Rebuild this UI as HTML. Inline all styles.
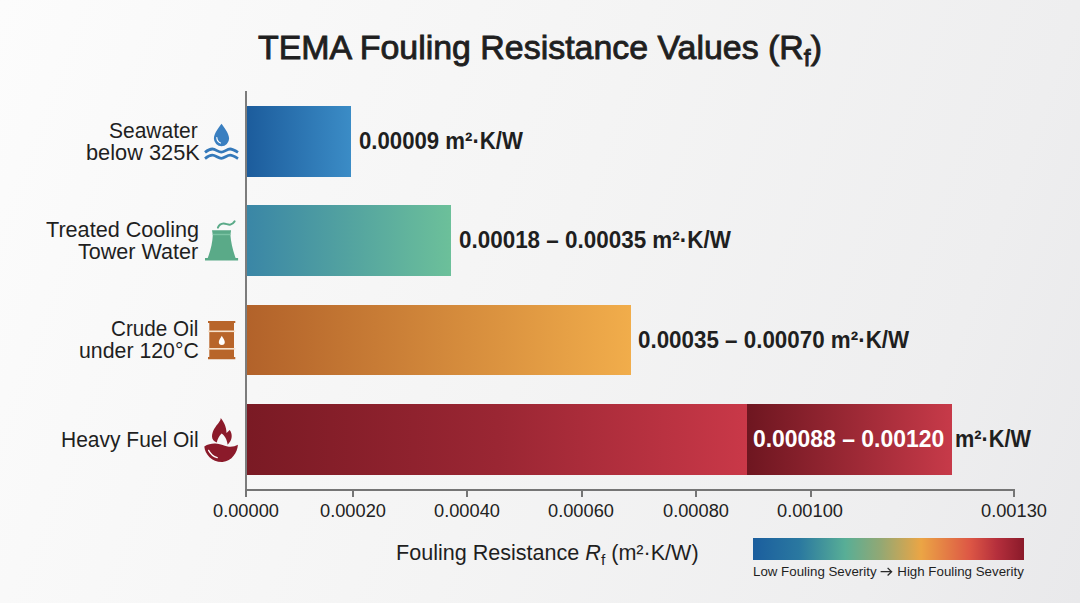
<!DOCTYPE html>
<html><head><meta charset="utf-8">
<style>
html,body{margin:0;padding:0;}
body{width:1080px;height:603px;position:relative;overflow:hidden;font-family:"Liberation Sans",sans-serif;color:#222;
background:linear-gradient(110deg,#fcfcfc 0%,#f9f9f9 17%,#f4f4f4 50%,#eeeeef 83%,#e9e9eb 100%);}
.t{position:absolute;white-space:nowrap;line-height:1;transform-origin:0 0;}
.bar{position:absolute;left:247px;}
.tick{position:absolute;top:490px;width:2px;height:7px;background:#757575;}
</style></head>
<body>
<div style="position:absolute;left:245px;top:91px;width:1.5px;height:406px;background:#7c7c7c;"></div>
<div style="position:absolute;left:245px;top:489px;width:770px;height:2px;background:#757575;"></div>
<div class="bar" style="top:106px;width:104px;height:71px;background:linear-gradient(90deg,#1c5c9c,#3b8cc6);"></div>
<div class="bar" style="top:205px;width:204px;height:71px;background:linear-gradient(90deg,#3a86a6,#6cc09a);"></div>
<div class="bar" style="top:305px;width:384px;height:70px;background:linear-gradient(90deg,#b2622a,#f1ad4b);"></div>
<div class="bar" style="top:404px;width:500px;height:71px;background:linear-gradient(90deg,#7a1a24 0%,#9a2633 50%,#c93848 100%);"></div>
<div class="bar" style="left:747px;top:404px;width:205px;height:71px;background:linear-gradient(90deg,#6e1620,#c73a49);"></div>
<div class='tick' style='left:245.0px'></div>
<div class='tick' style='left:352.0px'></div>
<div class='tick' style='left:466.4px'></div>
<div class='tick' style='left:580.6px'></div>
<div class='tick' style='left:695.1px'></div>
<div class='tick' style='left:809.8px'></div>
<div class='tick' style='left:1013.0px'></div>
<div class='t' style='left:258.3px;top:30px;transform:scaleX(0.9972);font-size:34px;font-weight:normal;-webkit-text-stroke:0.9px #222;color:#1f1f1f'>TEMA Fouling Resistance Values (R<sub style='font-size:0.72em;vertical-align:-0.3em;line-height:0'>f</sub>)</div>
<div class='t' style='left:108.55px;top:120px;transform:scaleX(0.9543);font-size:22px;color:#1f1f1f'>Seawater</div>
<div class='t' style='left:85.61px;top:142px;transform:scaleX(0.9903);font-size:22px;color:#1f1f1f'>below 325K</div>
<div class='t' style='left:46.1px;top:219px;transform:scaleX(0.9825);font-size:22px;color:#1f1f1f'>Treated Cooling</div>
<div class='t' style='left:77.9px;top:241px;transform:scaleX(0.9795);font-size:22px;color:#1f1f1f'>Tower Water</div>
<div class='t' style='left:110.96px;top:318px;transform:scaleX(0.9407);font-size:22px;color:#1f1f1f'>Crude Oil</div>
<div class='t' style='left:79.03px;top:340px;transform:scaleX(0.968);font-size:22px;color:#1f1f1f'>under 120°C</div>
<div class='t' style='left:61.39px;top:429px;transform:scaleX(0.9539);font-size:22px;color:#1f1f1f'>Heavy Fuel Oil</div>
<div class='t' style='left:359.06px;top:130px;transform:scaleX(0.9439);font-size:23.5px;font-weight:bold;color:#1f1f1f'>0.00009 m²·K/W</div>
<div class='t' style='left:458.85px;top:229px;transform:scaleX(0.9546);font-size:23.5px;font-weight:bold;color:#1f1f1f'>0.00018 – 0.00035 m²·K/W</div>
<div class='t' style='left:637.95px;top:329px;transform:scaleX(0.9521);font-size:23.5px;font-weight:bold;color:#1f1f1f'>0.00035 – 0.00070 m²·K/W</div>
<div class='t' style='left:753.42px;top:428px;transform:scaleX(0.9753);font-size:23.5px;font-weight:bold;color:#ffffff'>0.00088 – 0.00120</div>
<div class='t' style='left:955.35px;top:428px;transform:scaleX(0.9237);font-size:23.5px;font-weight:bold;color:#1f1f1f'>m²·K/W</div>
<div class='t' style='left:396.29px;top:543px;transform:scaleX(1.0027);font-size:21.5px;color:#1f1f1f'>Fouling Resistance <i>R</i><sub style='font-size:0.72em;vertical-align:-0.32em;line-height:0'>f</sub> (m²·K/W)</div>
<div class='t' style='left:752.63px;top:565px;transform:scaleX(0.9726);font-size:13.7px;color:#1f1f1f'>Low Fouling Severity <span style='color:transparent'>→</span> High Fouling Severity</div>
<div class='t' style='left:212.66px;top:503px;transform:scaleX(1.0419);font-size:17.5px;color:#222'>0.00000</div>
<div class='t' style='left:319.66px;top:503px;transform:scaleX(1.0419);font-size:17.5px;color:#222'>0.00020</div>
<div class='t' style='left:434.06px;top:503px;transform:scaleX(1.0419);font-size:17.5px;color:#222'>0.00040</div>
<div class='t' style='left:548.26px;top:503px;transform:scaleX(1.0419);font-size:17.5px;color:#222'>0.00060</div>
<div class='t' style='left:662.76px;top:503px;transform:scaleX(1.0419);font-size:17.5px;color:#222'>0.00080</div>
<div class='t' style='left:777.46px;top:503px;transform:scaleX(1.0419);font-size:17.5px;color:#222'>0.00100</div>
<div class='t' style='left:980.66px;top:503px;transform:scaleX(1.0419);font-size:17.5px;color:#222'>0.00130</div>
<div style="position:absolute;left:753px;top:538px;width:271px;height:22px;background:linear-gradient(90deg,#1b5e9e 0%,#2a78a0 17%,#58ae96 34%,#92a874 47%,#eba545 62%,#dd5745 80%,#b52f3c 90%,#8a1a2a 100%);"></div>
<svg style="position:absolute;left:0;top:0" width="1080" height="603" viewBox="0 0 1080 603">
<!-- water -->
<g fill="#3a7fc0">
<path d="M221.5,123.7 C220,126 213.9,133 213.9,138.6 A7.6,7.6 0 0 0 229.1,138.6 C229.1,133 223,126 221.5,123.7 Z"/>
</g>
<path d="M216.8,137.5 Q217,141.5 220.5,143" fill="none" stroke="#fff" stroke-width="1.2" stroke-linecap="round"/>
<g fill="none" stroke="#3479ba" stroke-width="2.8" stroke-linecap="butt">
<path d="M205,152.4 C208,150 210,149 212.4,149 C215.5,149 218.3,152.2 221.3,152.2 C224.3,152.2 227,149 230.1,149 C232.6,149 235,150.5 238,152.4"/>
<path d="M205,158.6 C208,156.2 210,155.2 212.4,155.2 C215.5,155.2 218.3,158.4 221.3,158.4 C224.3,158.4 227,155.2 230.1,155.2 C232.6,155.2 235,156.7 238,158.6"/>
</g>
<!-- tower -->
<path d="M212,230.2 L231.1,230.2 L230.4,235 C230.9,242 233,251 235.6,258 L238.1,258 L238.1,260.4 L205,260.4 L205,258 L207.7,258 C210.5,251 212.6,242 212.8,235 Z" fill="#5aaa88"/>
<rect x="212.7" y="233.8" width="17.8" height="1.4" fill="#7cc4a4"/>
<path d="M217.9,227.6 C219,225 221,223.8 223.5,223.6 C226,223.5 228,225 230.5,224.6 C232.5,224.2 233.5,223 234.6,221.4" fill="none" stroke="#5aaa88" stroke-width="2" stroke-linecap="round"/>
<!-- barrel -->
<path d="M208,321 L235.3,321 L235.3,323 L234,323 L234,357 L235.3,357 L235.3,359.2 L208,359.2 L208,357 L209.3,357 L209.3,323 L208,323 Z" fill="#b8652a"/>
<rect x="208" y="330.5" width="27.3" height="1.6" fill="#f6e2cc"/>
<rect x="208" y="348" width="27.3" height="1.6" fill="#f6e2cc"/>
<path d="M221.8,335.8 C221,337.5 218.8,340 218.8,342 A3,3 0 0 0 224.8,342 C224.8,340 222.6,337.5 221.8,335.8 Z" fill="#fff"/>
<!-- flame + bowl -->
<path d="M220.7,418 C224,422 226.5,427 226.5,433 C227.5,432 228.8,431 229.7,430.1 C232.6,434 232.8,440 227.6,444.8 C227,439.5 224.5,435.5 221.6,433.6 C219,436 217.5,439.5 216.8,442.4 C214,441.5 212,439.5 212,436.5 C212,431 216,426 218.5,423 C220,421 220.8,419.5 220.7,418 Z" fill="#8b1a2a"/>
<path d="M204.3,446.5 C208,444 212,443.3 215.5,443.5 C220,443.8 224,445.5 227.6,446.5 C231,447.3 235,446.5 237.9,444.8 C237.5,452 232,461.5 222.5,462 C212,462.3 205,454.5 204.3,446.5 Z" fill="#8b1a2a"/>
<path d="M208.6,450.4 Q211.5,456 217.2,457.7" fill="none" stroke="#fff" stroke-width="1.3" stroke-linecap="round"/>
<!-- legend arrow -->
<path d="M880.6,571.7 L891.6,571.7 M887.6,567.9 L891.6,571.7 L887.6,575.5" fill="none" stroke="#2a2a2a" stroke-width="1.3" stroke-linecap="butt" stroke-linejoin="miter"/>
</svg>

</body></html>
